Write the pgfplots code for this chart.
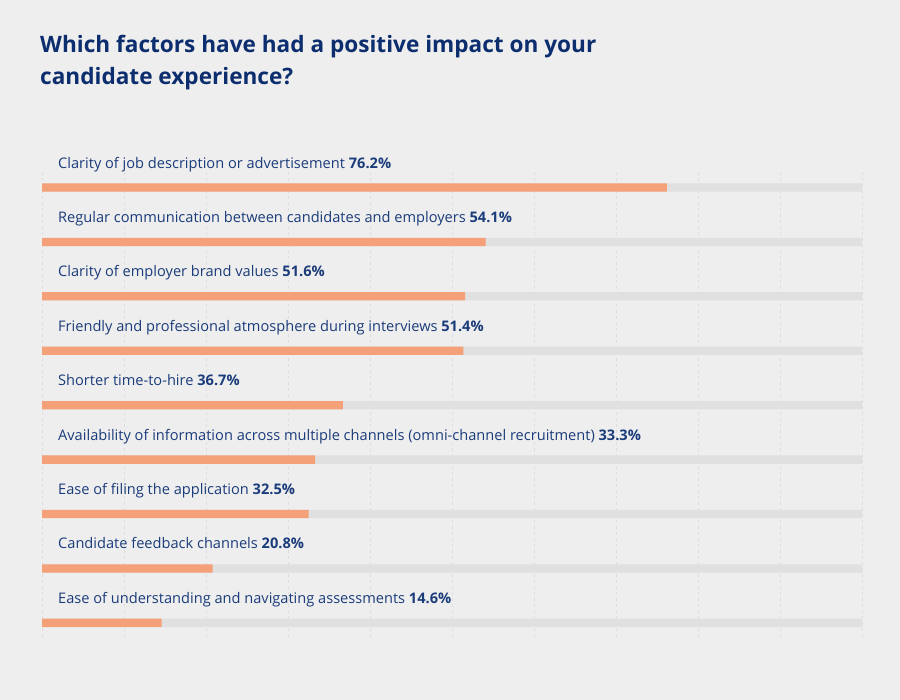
\documentclass[border=0pt]{standalone}
\usepackage{pgfplots}
\pgfplotsset{compat=1.18}
\usepackage{fontspec}
\setmainfont{Open Sans}
\definecolor{bg}{HTML}{EEEEEE}
\definecolor{track}{HTML}{E0E0E0}
\definecolor{barc}{HTML}{F4A078}
\definecolor{navy}{HTML}{0C2E6E}
\definecolor{lab}{HTML}{1B3C7A}
\definecolor{gridc}{HTML}{DEDEDE}
\begin{document}
\begin{tikzpicture}
\fill[bg] (0bp,0bp) rectangle (900bp,700bp);
\node[anchor=base west, text=navy, inner sep=0pt, font=\fontsize{22.6bp}{27bp}\selectfont\bfseries] at (40bp,647bp) {Which factors have had a positive impact on your};
\node[anchor=base west, text=navy, inner sep=0pt, font=\fontsize{22.6bp}{27bp}\selectfont\bfseries] at (40bp,615bp) {candidate experience?};
\begin{axis}[
  at={(42bp,528bp)}, anchor=north west,
  scale only axis, width=820bp, height=465bp,
  xmin=0, xmax=100, ymin=-0.285, ymax=8.26, y dir=reverse,
  xtick={0,10,...,100}, xticklabels={}, ytick=\empty,
  xmajorgrids, grid style={dash pattern=on 3bp off 3bp, gridc, line width=0.8bp},
  axis line style={draw=none}, major tick length=0pt,
  clip=false,
]
\addplot[xbar, bar width=8.3bp, bar shift=0pt, fill=track, draw=none] coordinates {
(100,0) (100,1) (100,2) (100,3) (100,4) (100,5) (100,6) (100,7) (100,8)};
\addplot[xbar, bar width=8.3bp, bar shift=0pt, fill=barc, draw=none] coordinates {
(76.2,0) (54.1,1) (51.6,2) (51.4,3) (36.7,4) (33.3,5) (32.5,6) (20.8,7) (14.6,8)};
\tikzset{lbl/.style={anchor=base west, inner sep=0pt, text=lab, font=\fontsize{14.6bp}{17bp}\selectfont}}
\node[lbl] at (axis cs:1.95,-0.358) {Clarity of job description or advertisement \textbf{76.2\%}};
\node[lbl] at (axis cs:1.95,0.642) {Regular communication between candidates and employers \textbf{54.1\%}};
\node[lbl] at (axis cs:1.95,1.642) {Clarity of employer brand values \textbf{51.6\%}};
\node[lbl] at (axis cs:1.95,2.642) {Friendly and professional atmosphere during interviews \textbf{51.4\%}};
\node[lbl] at (axis cs:1.95,3.642) {Shorter time-to-hire \textbf{36.7\%}};
\node[lbl] at (axis cs:1.95,4.642) {Availability of information across multiple channels (omni-channel recruitment) \textbf{33.3\%}};
\node[lbl] at (axis cs:1.95,5.642) {Ease of filing the application \textbf{32.5\%}};
\node[lbl] at (axis cs:1.95,6.642) {Candidate feedback channels \textbf{20.8\%}};
\node[lbl] at (axis cs:1.95,7.642) {Ease of understanding and navigating assessments \textbf{14.6\%}};
\end{axis}
\end{tikzpicture}
\end{document}
